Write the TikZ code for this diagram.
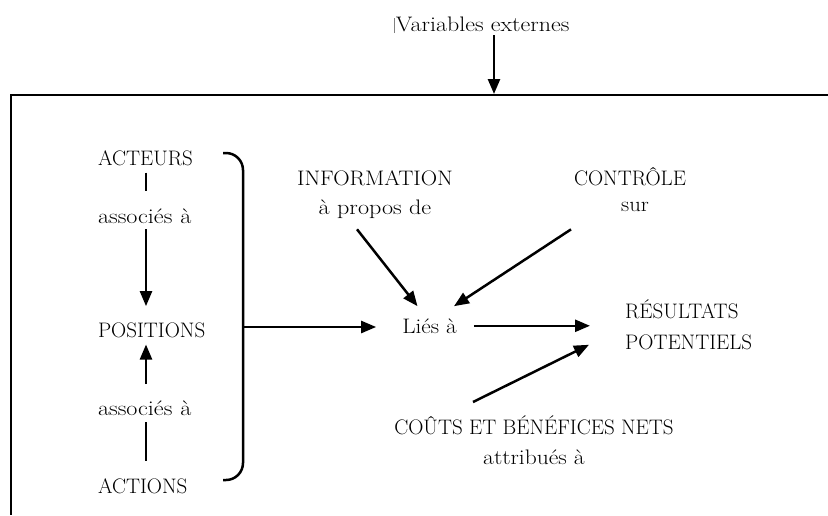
\documentclass[tikz,border=0pt]{standalone}
\usepackage{graphicx}
\usetikzlibrary{arrows.meta,calc}
\newcommand{\wider}[2][1.14]{\scalebox{#1}[1]{#2}}
\begin{document}
\begin{tikzpicture}[x=1pt,y=-1pt,
  lbl/.style={inner sep=0pt, font=\fontsize{21}{30}\selectfont},
  col/.style={lbl, text width=96pt, align=left, anchor=base},
  conn/.style={line width=2.5pt, -{Triangle[length=15pt,width=12pt]}},
  plainline/.style={line width=2.5pt},
  frameline/.style={line width=2.8pt}]
\useasboundingbox (0,0) rectangle (828,515);

% frame
\draw[frameline] (828,95) -- (11,95) -- (11,515);
\coordinate (boxtop) at (494,95);

% external variables
\node[lbl, anchor=base west] (vars) at (394,31) {{\color{gray}\rule[-2pt]{0.7pt}{15pt}}\hspace{1pt}\wider{Variables externes}};
\draw[conn, shorten <=2pt, shorten >=1pt] (vars.south -| boxtop) -- (boxtop);

% left column
\node[col] (acteurs) at (146,165) {ACTEURS};
\node[col] (assoc1) at (146,223) {\wider[1.15]{associés à}};
\node[col] (positions) at (146,337) {POSITIONS};
\node[col] (assoc2) at (146,415) {\wider[1.15]{associés à}};
\node[col] (actions) at (146,493) {ACTIONS};

\draw[plainline, shorten <=7pt, shorten >=17pt] (acteurs) -- (assoc1);
\draw[conn, shorten <=6pt, shorten >=16pt] (assoc1) -- (positions);
\draw[conn, shorten <=16pt, shorten >=7pt] (assoc2) -- (positions);
\draw[plainline, shorten <=7pt, shorten >=17pt] (assoc2) -- (actions);

% brace
\draw[plainline, rounded corners=17pt] (223,153) -| (243,327) |- (223,480);
\coordinate (brace) at (243,327);

% centre (base anchor of a multi-line node = last line's baseline)
\node[lbl, anchor=base] (lies) at (429.5,333) {\wider[1.1]{Liés à}};
\node[lbl, align=left, anchor=base west] (resultats) at (625,349) {RÉSULTATS\\[1pt]POTENTIELS};
\node[lbl, align=center, anchor=base] (info) at (375,214) {\wider[1.08]{INFORMATION}\\[-1pt]\wider[1.15]{à propos de}};
\node[lbl, align=center, anchor=base] (ctrl) at (630,211) {CONTRÔLE\\[-4pt]\hspace*{10pt}\wider[1.08]{sur}};
\node[lbl, align=center, anchor=base] (couts) at (534,464) {COÛTS ET BÉNÉFICES NETS\\\wider[1.12]{attribués à}};

\draw[conn, shorten >=26pt] (brace) -- (brace -| lies.west);
\draw[conn, shorten <=17pt, shorten >=35pt] (lies.east) -- (lies.east -| resultats.west);
\draw[conn] ([shift={(-18,11)}]info.south) -- ([shift={(-12,-12)}]lies.north);
\draw[conn] ([shift={(-59,18)}]ctrl.south) -- ([shift={(24.5,-12)}]lies.north);
\draw[conn] ([shift={(-61,-13)}]couts.north) -- ([shift={(-36,20.5)}]resultats.west);
\end{tikzpicture}
\end{document}
